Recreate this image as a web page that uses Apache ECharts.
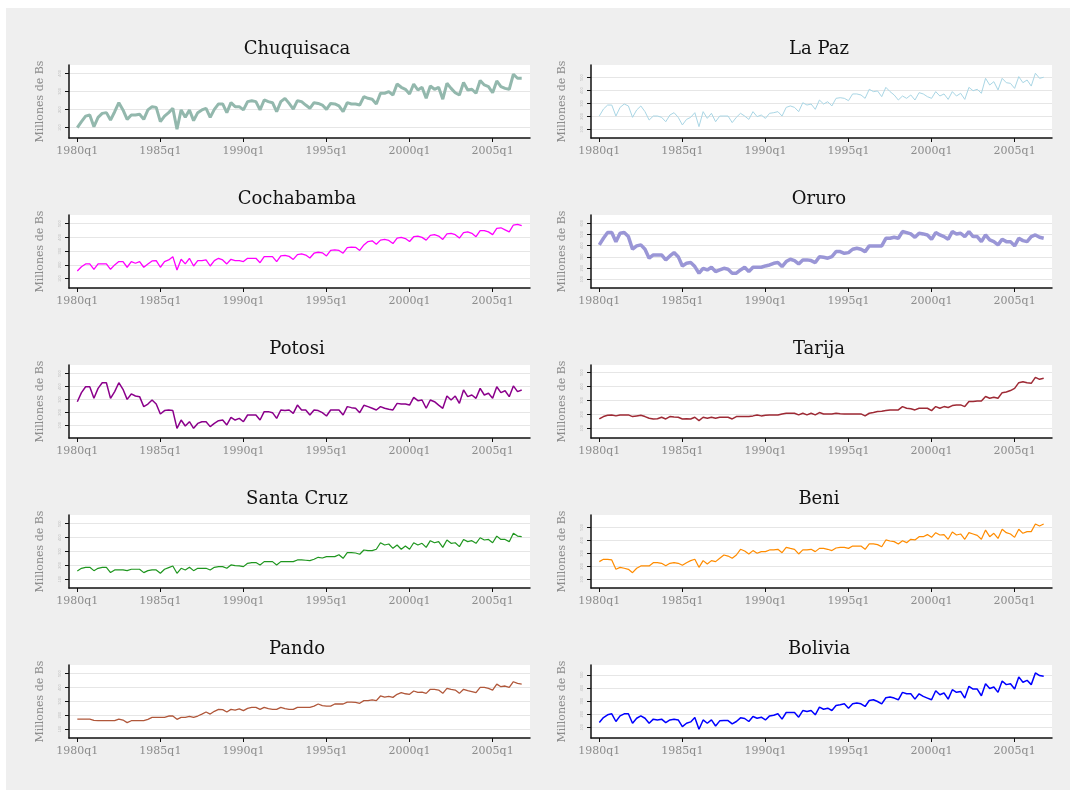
<!DOCTYPE html>
<html>
<head>
<meta charset="utf-8">
<script src="https://cdn.jsdelivr.net/npm/echarts@6/dist/echarts.min.js"></script>
<style>
  html, body { margin: 0; padding: 0; background: #fff; }
  #frame { position: absolute; left: 6px; top: 8px; width: 1064px; height: 782px; background: #efefef; }
  #chart { position: absolute; left: 0; top: 0; width: 1076px; height: 793px; }
</style>
</head>
<body>
<div id="frame"></div>
<div id="chart"></div>
<script>
// quarterly values, 1980q1 .. 2006q4 (one row = one year)
var chuquisaca = [
  100,133,164,170, 105,157,179,183, 142,188,238,198, 146,170,170,174, 146,198,216,212,
  133,164,183,207, 91,198,157,198, 139,183,198,207, 157,201,231,231, 183,238,216,216,
  198,244,249,244, 198,253,244,238, 188,244,262,234, 203,249,244,225, 207,238,234,225,
  201,234,231,220, 188,238,231,231, 225,271,262,257, 231,290,290,299, 280,341,323,312,
  286,341,308,323, 262,330,312,323, 257,345,317,293, 280,349,308,312, 290,360,336,327,
  293,358,327,317, 312,395,373,373
]
var laPaz = [
  203,257,288,288, 203,270,296,281, 193,250,281,237, 172,203,203,193, 159,211,229,193,
  134,177,193,229, 121,237,185,224, 159,203,203,203, 152,193,224,203, 177,237,198,211,
  185,224,229,237, 203,270,281,270, 237,306,288,296, 255,327,296,314, 281,340,345,340,
  322,374,374,366, 340,410,392,397, 353,425,392,366, 327,358,340,366, 327,384,374,353,
  340,392,358,374, 332,392,358,379, 332,425,399,410, 379,495,443,469, 405,495,461,456,
  417,508,461,482, 435,534,495,503
]
var cochabamba = [
  156,187,207,207, 168,207,207,207, 168,200,224,224, 183,224,212,224, 183,207,229,231,
  183,224,236,260, 163,241,207,248, 192,231,231,236, 192,231,248,236, 207,241,231,231,
  224,248,248,248, 216,260,260,260, 224,265,270,262, 240,275,280,272, 250,285,292,288,
  265,305,310,305, 285,325,330,328, 305,345,370,375, 350,380,385,378, 355,395,400,392,
  370,405,410,400, 380,415,420,410, 385,425,430,420, 395,435,440,430, 405,450,450,440,
  420,465,470,455, 440,490,495,485
]
var oruro = [
  407,466,517,517, 436,511,517,481, 368,398,407,368, 288,317,317,317, 273,308,338,302,
  219,243,249,213, 154,198,183,207, 168,183,198,189, 154,154,183,207, 168,207,207,207,
  219,228,243,249, 213,258,279,267, 237,273,273,267, 249,302,296,288, 302,347,347,332,
  338,368,377,368, 347,398,398,398, 398,466,466,475, 466,526,517,505, 475,511,505,496,
  457,517,496,481, 457,526,505,511, 481,526,481,481, 436,496,451,436, 407,457,436,436,
  398,466,445,436, 481,496,475,466
]
var potosi = [
  283,353,399,399, 309,386,430,430, 309,361,430,379, 301,343,327,322, 245,265,296,265,
  188,214,219,214, 77,141,95,128, 77,115,128,128, 90,115,136,141, 103,162,141,154,
  128,180,180,180, 141,206,206,198, 154,219,214,219, 193,257,219,219, 180,219,214,198,
  172,219,219,219, 180,245,237,232, 198,255,245,232, 219,245,232,224, 219,270,265,265,
  257,317,291,296, 232,296,283,257, 232,327,296,327, 270,374,322,335, 309,386,335,348,
  309,399,353,368, 322,405,361,374
]
var tarija = [
  167,184,193,196, 189,196,196,196, 184,189,193,184, 172,167,169,179, 167,184,181,179,
  167,169,167,179, 155,179,172,179, 172,179,179,179, 167,184,184,184, 184,189,196,189,
  193,196,196,196, 203,208,208,208, 196,208,196,208, 196,213,203,203, 203,208,205,203,
  203,203,203,203, 189,208,213,220, 222,227,232,232, 232,256,244,241, 232,244,244,244,
  227,256,244,256, 249,263,268,268, 256,292,292,296, 296,328,316,323, 316,356,361,371,
  387,428,435,428, 423,466,452,459
]
var santaCruz = [
  160,179,186,186, 162,179,186,186, 148,167,167,167, 162,172,172,172, 148,162,167,167,
  143,172,184,196, 143,179,167,186, 162,179,179,179, 167,186,191,191, 179,203,198,196,
  191,215,220,220, 203,227,227,227, 203,227,227,227, 227,239,239,237, 234,244,258,253,
  263,263,263,277, 251,292,292,289, 280,311,306,306, 316,363,347,354, 323,347,316,340,
  316,363,347,359, 330,378,363,371, 330,383,359,363, 335,387,371,378, 359,399,383,387,
  363,411,387,387, 371,431,411,407
]
var beni = [
  236,254,254,249, 177,192,185,177, 151,185,203,203, 203,228,228,223, 205,223,228,223,
  208,228,244,254, 192,244,218,244, 236,262,287,279, 262,287,331,318, 295,321,300,313,
  313,326,326,331, 305,346,338,331, 295,326,326,331, 313,338,338,331, 321,341,346,346,
  338,356,356,356, 331,372,372,367, 351,403,395,390, 372,397,382,408, 403,428,428,444,
  423,459,441,444, 408,464,441,449, 408,459,449,438, 408,479,428,454, 415,485,459,449,
  423,485,454,467, 467,526,510,526
]
var pando = [
  172,172,172,172, 163,160,160,160, 160,160,172,165, 146,160,160,160, 160,170,184,184,
  184,184,194,194, 170,184,184,192, 184,194,208,223, 208,228,242,240, 223,242,237,245,
  233,249,257,257, 242,257,247,242, 242,257,247,242, 242,257,257,257, 257,266,281,269,
  266,266,281,281, 281,295,295,293, 286,305,305,310, 305,339,331,336, 329,351,363,355,
  351,375,365,367, 358,387,387,382, 358,394,387,382, 358,387,377,370, 363,401,401,394,
  382,425,406,411, 401,442,430,425
]
var bolivia = [
  136,174,195,203, 144,187,203,203, 131,169,187,169, 131,162,156,162, 136,156,162,156,
  105,131,141,174, 85,156,131,156, 110,149,151,151, 126,144,172,167, 144,182,169,177,
  156,187,192,203, 162,213,213,213, 177,228,221,228, 195,254,238,246, 228,267,272,279,
  246,279,285,279, 259,305,310,297, 279,326,331,323, 310,367,356,356, 315,356,336,323,
  310,379,349,362, 315,387,367,374, 323,413,392,392, 341,433,397,408, 367,454,426,433,
  392,485,444,459, 426,515,495,490
]

var xTickPos = [0, 20, 40, 60, 80, 100]
var xTickLabels = ['1980q1', '1985q1', '1990q1', '1995q1', '2000q1', '2005q1']

var panels = [
  { name: 'Chuquisaca', data: chuquisaca, ticks: [100, 200, 300, 400], min: 43, max: 446, color: '#93b8ad', width: 3 },
  { name: 'La Paz', data: laPaz, ticks: [100, 200, 300, 400, 500], min: 33, max: 598, color: '#a9d6e5', width: 1 },
  { name: 'Cochabamba', data: cochabamba, ticks: [100, 200, 300, 400, 500], min: 32, max: 563, color: '#ff00ff', width: 1.3 },
  { name: 'Oruro', data: oruro, ticks: [100, 200, 300, 400, 500, 600], min: 22, max: 674, color: '#9a96d6', width: 3.5 },
  { name: 'Potosi', data: potosi, ticks: [100, 200, 300, 400, 500], min: 2, max: 567, color: '#8b008b', width: 1.5 },
  { name: 'Tarija', data: tarija, ticks: [100, 200, 300, 400, 500], min: 30, max: 555, color: '#9e2a35', width: 1.5 },
  { name: 'Santa Cruz', data: santaCruz, ticks: [100, 200, 300, 400, 500], min: 37, max: 563, color: '#1f961f', width: 1.2 },
  { name: 'Beni', data: beni, ticks: [100, 200, 300, 400, 500], min: 33, max: 595, color: '#ff8c00', width: 1.2 },
  { name: 'Pando', data: pando, ticks: [100, 200, 300, 400, 500], min: 35, max: 563, color: '#b0573a', width: 1.3 },
  { name: 'Bolivia', data: bolivia, ticks: [100, 200, 300, 400, 500], min: 18, max: 576, color: '#0000ff', width: 1.5 }
]

var grids = [], xAxes = [], yAxes = [], series = [], graphics = []

panels.forEach(function (p, idx) {
  var col = idx % 2
  var row = Math.floor(idx / 2)
  var left = col ? 591 : 69
  var top = 65 + 150 * row

  grids.push({ left: left, top: top, width: 461, height: 73, show: true, backgroundColor: '#fff', borderWidth: 0 })

  xAxes.push({
    type: 'value', gridIndex: idx, min: -2, max: 109,
    axisLine: { onZero: false, lineStyle: { color: '#111', width: 1.5 } },
    axisTick: { customValues: xTickPos, length: 4, lineStyle: { color: '#111' } },
    axisLabel: {
      customValues: xTickPos, margin: 8, color: '#8c8c8c',
      fontFamily: 'DejaVu Serif', fontSize: 11,
      formatter: function (v) { return xTickLabels[xTickPos.indexOf(v)] }
    },
    splitLine: { show: false }
  })

  yAxes.push({
    type: 'value', gridIndex: idx, min: p.min, max: p.max,
    name: 'Millones de Bs', nameLocation: 'middle', nameGap: 23, nameRotate: 90,
    nameTextStyle: { color: '#8c8c8c', fontFamily: 'DejaVu Serif', fontSize: 11 },
    axisLine: { show: true, onZero: false, lineStyle: { color: '#111', width: 1.5 } },
    axisTick: { show: true, customValues: p.ticks, length: 4, lineStyle: { color: '#111' } },
    axisLabel: { customValues: p.ticks, rotate: 90, margin: 7, fontSize: 4, color: '#bdbdbd' },
    splitLine: { show: true, lineStyle: { color: '#e6e6e6', width: 1 } }
  })

  series.push({
    type: 'line', name: p.name, xAxisIndex: idx, yAxisIndex: idx,
    data: p.data.map(function (v, i) { return [i, v] }),
    showSymbol: false,
    lineStyle: { color: p.color, width: p.width },
    itemStyle: { color: p.color }
  })

  graphics.push({
    type: 'text', x: left + 228, y: top - 16,
    style: {
      text: p.name, fill: '#111', align: 'center', verticalAlign: 'middle',
      fontFamily: 'DejaVu Serif', fontSize: 18
    }
  })
})

var chart = echarts.init(document.getElementById('chart'))
chart.setOption({
  animation: false,
  grid: grids,
  xAxis: xAxes,
  yAxis: yAxes,
  series: series,
  graphic: graphics
})
</script>
</body>
</html>
